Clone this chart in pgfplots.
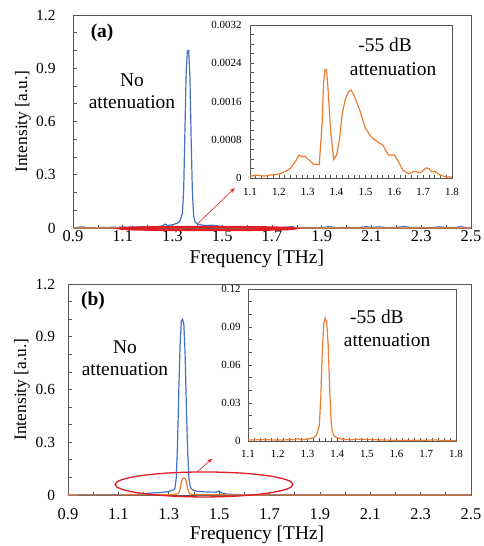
\documentclass[border=0pt]{standalone}
\usepackage{fontspec}
\setmainfont{Liberation Serif}
\usepackage{pgfplots}
\pgfplotsset{compat=1.18}
\usepackage{pgfplotstable}
\usetikzlibrary{arrows.meta}
\definecolor{xlblue}{RGB}{68,114,196}
\definecolor{xlorange}{RGB}{237,125,49}
\definecolor{ellred}{RGB}{225,30,35}
\definecolor{framegray}{RGB}{85,85,85}

% panel (a), no attenuation
\pgfplotstableread{
x y
0.90 0.000
0.92 0.004
0.94 0.006
0.96 0.001
0.98 0.003
1.00 0.000
1.02 0.004
1.04 0.002
1.06 0.005
1.08 0.003
1.10 0.006
1.12 0.004
1.14 0.007
1.16 0.005
1.18 0.008
1.20 0.006
1.22 0.009
1.24 0.008
1.26 0.012
1.27 0.022
1.28 0.014
1.30 0.018
1.32 0.028
1.33 0.040
1.34 0.085
1.345 0.22
1.35 0.55
1.355 0.88
1.36 1.00
1.365 1.00
1.37 0.85
1.375 0.50
1.38 0.20
1.385 0.07
1.39 0.035
1.40 0.022
1.42 0.016
1.44 0.014
1.46 0.016
1.48 0.012
1.50 0.008
1.52 0.004
1.55 0.006
1.58 0.002
1.62 0.004
1.66 0.002
1.70 0.003
1.74 0.001
1.78 0.008
1.80 0.002
1.85 0.003
1.90 0.002
1.93 0.008
1.96 0.002
2.00 0.003
2.04 0.001
2.08 0.008
2.10 0.003
2.13 0.007
2.16 0.002
2.20 0.003
2.23 0.009
2.26 0.002
2.30 0.003
2.34 0.001
2.37 0.007
2.40 0.002
2.44 0.003
2.46 0.008
2.48 0.002
2.50 0.001
}\blueA

% panel (a), -55 dB attenuation
\pgfplotstableread{
x y
0.90 0.00002
1.00 0.00003
1.10 0.000035
1.12 0.00006
1.15 0.00004
1.18 0.00007
1.20 0.00008
1.22 0.00013
1.24 0.00020
1.26 0.00037
1.27 0.00048
1.28 0.00044
1.29 0.00046
1.30 0.00040
1.32 0.00029
1.34 0.00028
1.35 0.00115
1.355 0.00200
1.36 0.00227
1.365 0.00226
1.37 0.00190
1.38 0.00094
1.39 0.00039
1.40 0.00048
1.41 0.00080
1.42 0.00136
1.43 0.00164
1.44 0.00179
1.45 0.00184
1.46 0.00174
1.47 0.00158
1.48 0.00143
1.50 0.00104
1.52 0.00086
1.54 0.00076
1.56 0.00069
1.58 0.00048
1.60 0.00048
1.61 0.00039
1.63 0.00016
1.65 0.00009
1.67 0.00014
1.69 0.00011
1.71 0.00021
1.72 0.00020
1.73 0.00013
1.74 0.00014
1.76 0.00006
1.78 0.00002
1.80 0.00002
2.00 0.00002
2.50 0.00002
}\orangeA

% panel (b), no attenuation
\pgfplotstableread{
x y
0.90 0.000
1.00 0.002
1.10 0.001
1.15 0.003
1.20 0.005
1.22 0.010
1.24 0.012
1.26 0.014
1.28 0.016
1.30 0.020
1.31 0.025
1.32 0.030
1.325 0.040
1.33 0.10
1.335 0.30
1.34 0.60
1.345 0.85
1.35 0.99
1.355 1.00
1.36 0.97
1.365 0.80
1.37 0.50
1.375 0.25
1.38 0.10
1.385 0.05
1.39 0.035
1.40 0.025
1.42 0.020
1.44 0.018
1.46 0.017
1.48 0.016
1.49 0.018
1.50 0.022
1.51 0.012
1.53 0.005
1.56 0.003
1.60 0.002
2.00 0.001
2.50 0.001
}\blueB

% panel (b), -55 dB attenuation
\pgfplotstableread{
x y
0.90 0.0005
1.00 0.0008
1.10 0.0008
1.15 0.0010
1.20 0.0008
1.25 0.0010
1.27 0.0018
1.28 0.0010
1.30 0.0015
1.32 0.0025
1.33 0.0045
1.34 0.012
1.345 0.035
1.35 0.070
1.355 0.093
1.36 0.097
1.365 0.094
1.37 0.075
1.375 0.040
1.38 0.014
1.385 0.006
1.39 0.004
1.40 0.0025
1.42 0.0012
1.45 0.0010
1.48 0.0015
1.50 0.0012
1.55 0.0008
1.60 0.0005
1.70 0.0006
1.73 0.0009
1.75 0.0004
1.80 0.0004
2.00 0.0004
2.50 0.0004
}\orangeB

\tikzset{txt/.style={font=\fontsize{19.5}{22}\selectfont, align=center}}

\pgfplotsset{
  common/.style={
    scale only axis,
    axis line style={framegray, line width=0.9bp},
    tick style={framegray, line width=0.7bp},
    tick align=inside, tick pos=left,
    major tick length=3.5bp, minor tick length=3.5bp,
    scaled ticks=false,
    /pgf/number format/assume math mode=true,
  },
  mainax/.style={common, clip=false,
    xmin=0.9, xmax=2.5, ymin=0, ymax=1.2,
    xtick={0.9,1.1,1.3,1.5,1.7,1.9,2.1,2.3,2.5},
    xticklabels={0.9,1.1,1.3,1.5,1.7,1.9,2.1,2.3,2.5},
    ytick={0,0.3,0.6,0.9,1.2},
    yticklabels={0,0.3,0.6,0.9,1.2},
    minor x tick num=1, minor y tick num=2,
    xticklabel style={font=\fontsize{16.5}{18}\selectfont},
    yticklabel style={font=\fontsize{15.5}{18}\selectfont},
    xlabel={Frequency [THz]}, ylabel={Intensity [a.u.]},
    xlabel style={font=\fontsize{19.5}{22}\selectfont, anchor=center, inner sep=1bp},
    ylabel style={font=\fontsize{17.5}{20}\selectfont, anchor=center},
  },
  insetax/.style={common,
    xmin=1.1, xmax=1.8,
    xtick={1.1,1.2,1.3,1.4,1.5,1.6,1.7,1.8},
    xticklabels={1.1,1.2,1.3,1.4,1.5,1.6,1.7,1.8},
    minor x tick num=4,
    ticklabel style={font=\fontsize{11}{12}\selectfont},
  },
}

\begin{document}
\begin{tikzpicture}
\useasboundingbox (0,0) rectangle (484bp,-546bp);

% ---------- panel (a) ----------
\begin{axis}[mainax, at={(73bp,-228bp)}, width=398bp, height=213bp,
  xticklabel style={yshift=-1.5bp, inner sep=1bp},
  yticklabel style={xshift=-14bp},
  xlabel style={at={(axis description cs:0.462,-0.146)}},
  ylabel style={at={(axis description cs:-0.126,0.5)}},
]
\addplot[xlblue, line width=1.2bp] table {\blueA};
\addplot[xlorange, line width=1.1bp] table {\orangeA};
\draw[ellred, line width=2.2bp] (axis cs:1.44,-0.003) ellipse [x radius=0.352, y radius=0.009];
\draw[ellred, line width=0.6bp, -{Stealth[length=5bp,width=4bp]}] (axis cs:1.40,0.023) -- (axis cs:1.55,0.225);
\node[txt, font=\bfseries\fontsize{19.5}{22}\selectfont] at (axis cs:1.017,1.099) {(a)};
\node[txt] at (axis cs:1.137,0.772) {No\\attenuation};
\end{axis}

\begin{axis}[insetax, at={(250bp,-178bp)}, width=202bp, height=153bp,
  ymin=0, ymax=0.0032,
  ytick={0,0.0008,0.0016,0.0024,0.0032},
  yticklabels={0,0.0008,0.0016,0.0024,0.0032},
  minor y tick num=3,
  xticklabel style={yshift=-7bp},
  yticklabel style={xshift=-5bp},
]
\addplot[xlorange, line width=1.2bp] table {\orangeA};
\node[txt] at (axis cs:1.568,0.00278) {-55 dB};
\node[txt] at (axis cs:1.596,0.00228) {attenuation};
\end{axis}

% ---------- panel (b) ----------
\begin{axis}[mainax, at={(68bp,-495bp)}, width=403bp, height=211bp,
  xticklabel style={yshift=-10bp},
  yticklabel style={xshift=-9.5bp},
  xlabel style={at={(axis description cs:0.469,-0.19)}},
  ylabel style={at={(axis description cs:-0.114,0.5)}},
]
\addplot[xlblue, line width=1.2bp] table {\blueB};
\addplot[xlorange, line width=1.2bp] table {\orangeB};
\draw[ellred, line width=1.3bp] (axis cs:1.44,0.06) ellipse [x radius=0.353, y radius=0.071];
\draw[ellred, line width=0.6bp, -{Stealth[length=5bp,width=4bp]}] (axis cs:1.412,0.131) -- (axis cs:1.472,0.206);
\node[txt, font=\bfseries\fontsize{19.5}{22}\selectfont] at (axis cs:0.999,1.103) {(b)};
\node[txt] at (axis cs:1.126,0.78) {No\\attenuation};
\end{axis}

\begin{axis}[insetax, at={(248bp,-441bp)}, width=208bp, height=152bp,
  ymin=0, ymax=0.12,
  ytick={0,0.03,0.06,0.09,0.12},
  yticklabels={0,0.03,0.06,0.09,0.12},
  minor y tick num=2,
  xticklabel style={yshift=-6bp},
  yticklabel style={xshift=-4bp},
]
\addplot[xlorange, line width=1.2bp] table {\orangeB};
\node[txt] at (axis cs:1.534,0.0979) {-55 dB};
\node[txt] at (axis cs:1.568,0.0797) {attenuation};
\end{axis}
\end{tikzpicture}
\end{document}
